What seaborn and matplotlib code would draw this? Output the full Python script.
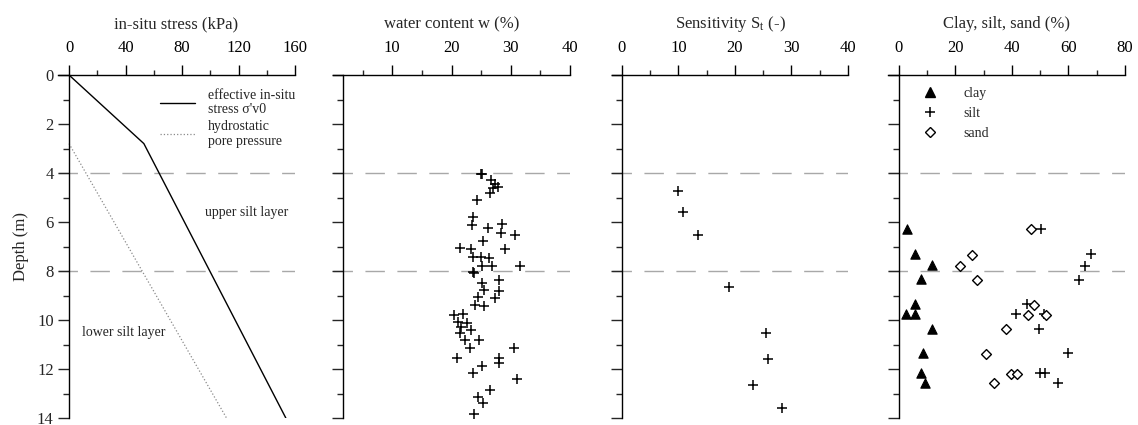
import numpy as np
import pandas as pd
import matplotlib
matplotlib.use("Agg")
import matplotlib.pyplot as plt
from matplotlib.lines import Line2D
from matplotlib.ticker import MultipleLocator, FixedLocator
import seaborn as sns

# ---- in-situ stress profile ----
eff_depth = [0.0, 2.8, 14.0]
eff_stress = [0.0, 53.0, 153.5]
hyd_depth = [2.8, 14.0]
hyd_stress = [0.0, 111.5]

# ---- water content w (%) ----
w_depth = [4.04, 4.06, 4.29, 4.46, 4.56, 4.63, 4.83, 5.10, 5.78, 6.12, 6.08, 6.26,
           6.44, 6.53, 6.76, 7.07, 7.12, 7.12, 7.44, 7.44, 7.48, 7.78, 7.78, 7.78,
           8.06, 8.09, 8.37, 8.50, 8.78, 8.80, 9.05, 9.09, 9.39, 9.43, 9.80, 9.76,
           10.07, 10.11, 10.30, 10.41, 10.52, 10.82, 10.82, 11.16, 11.16, 11.57,
           11.54, 11.77, 11.86, 12.15, 12.42, 12.84, 13.13, 13.40, 13.84]
w_value = [25.0, 25.1, 26.7, 27.3, 27.8, 27.0, 26.5, 24.3, 23.7, 23.5, 28.6, 26.2,
           28.3, 30.8, 25.3, 21.4, 23.3, 29.0, 23.6, 24.9, 26.4, 25.2, 26.8, 31.6,
           23.7, 23.8, 28.0, 25.1, 25.5, 28.0, 24.4, 27.3, 24.0, 25.5, 20.5, 22.0,
           21.1, 22.7, 21.6, 23.3, 21.4, 22.2, 24.7, 23.2, 30.6, 21.0,
           28.0, 28.1, 25.2, 23.6, 31.0, 26.5, 24.4, 25.4, 23.8]

# ---- sensitivity St (-) ----
st_depth = [4.73, 5.61, 6.53, 8.67, 10.54, 11.61, 12.65, 13.61]
st_value = [9.9, 10.9, 13.4, 18.9, 25.5, 25.9, 23.2, 28.4]

# ---- grain size fractions (%) ----
clay_depth = [6.30, 7.32, 7.76, 8.33, 9.35, 9.76, 9.76, 10.37, 11.36, 12.15, 12.56]
clay_value = [2.7, 5.7, 11.6, 7.7, 5.7, 2.5, 5.7, 11.6, 8.4, 7.7, 9.2]
silt_depth = [6.30, 7.32, 7.80, 8.37, 9.36, 9.77, 9.77, 10.37, 11.36, 12.18, 12.18, 12.59]
silt_value = [50.2, 67.9, 65.8, 63.7, 45.4, 41.4, 51.3, 49.7, 59.7, 49.9, 51.7, 56.4]
sand_depth = [6.30, 7.35, 7.80, 8.37, 9.39, 9.80, 9.80, 10.38, 11.39, 12.20, 12.20, 12.59]
sand_value = [46.7, 25.7, 21.6, 27.7, 47.8, 45.8, 51.9, 37.8, 30.7, 39.5, 41.7, 33.7]

layer_bounds = [4, 8]

sns.set_style("ticks")
plt.rcParams["font.family"] = ["Liberation Serif", "DejaVu Serif"]
plt.rcParams["mathtext.fontset"] = "stix"
plt.rcParams["font.size"] = 10

AXIS_FS = 12   # axis titles and tick labels
NOTE_FS = 10   # legends and annotations

W, H = 1138, 425
fig = plt.figure(figsize=(W / 100, H / 100), dpi=100)

top_px, bot_px = 75, 418


def make_axes(left_px, right_px):
    return fig.add_axes([left_px / W, 1 - bot_px / H,
                         (right_px - left_px) / W, (bot_px - top_px) / H])


def style_axes(ax, xlim, spine_x, major, minor, xlabel, show_ylabels):
    ax.set_xlim(*xlim)
    ax.set_ylim(14, 0)
    ax.xaxis.set_ticks_position("top")
    ax.xaxis.set_label_position("top")
    for s in ("right", "bottom"):
        ax.spines[s].set_visible(False)
    ax.spines["left"].set_position(("data", spine_x))
    ax.spines["left"].set_bounds(0, 14)
    for s in ("left", "top"):
        ax.spines[s].set_linewidth(1.0)
        ax.spines[s].set_color("black")
    ax.xaxis.set_major_locator(FixedLocator(major))
    ax.xaxis.set_minor_locator(FixedLocator(minor))
    ax.yaxis.set_major_locator(MultipleLocator(2))
    ax.yaxis.set_minor_locator(MultipleLocator(1))
    ax.tick_params(axis="x", which="major", direction="out", length=7, width=1.0,
                   pad=7, labelsize=AXIS_FS, colors="black")
    ax.tick_params(axis="x", which="minor", direction="out", length=3.5, width=1.0)
    ax.tick_params(axis="y", which="major", direction="out", length=8, width=1.0,
                   pad=3, labelsize=AXIS_FS, labelleft=show_ylabels)
    ax.tick_params(axis="y", which="minor", direction="out", length=4, width=1.0)
    ax.set_xlabel(xlabel, fontsize=AXIS_FS, labelpad=8)
    ax.set_ylabel("")
    for d in layer_bounds:
        ax.axhline(d, color="#a8a8a8", lw=1.0, dashes=(14, 9), zorder=0)


# ---- panel 1: in-situ stress ----
ax1 = make_axes(58, 295)
sns.lineplot(x=eff_stress, y=eff_depth, sort=False, estimator=None,
             color="black", lw=1.0, ax=ax1, label="effective in-situ\nstress σ'v0")
sns.lineplot(x=hyd_stress, y=hyd_depth, sort=False, estimator=None,
             color="#8a8a8a", lw=0.9, linestyle=":", ax=ax1,
             label="hydrostatic\npore pressure")
style_axes(ax1, (-7.79, 160), 0, [0, 40, 80, 120, 160], [20, 60, 100, 140],
           "in-situ stress (kPa)", True)
ax1.set_ylabel("Depth (m)", fontsize=AXIS_FS, labelpad=6)
leg1 = ax1.legend(loc="upper left", bbox_to_anchor=(160 / W, 1 - 89 / H),
                  bbox_transform=fig.transFigure, frameon=False, fontsize=NOTE_FS,
                  handlelength=2.5, handletextpad=0.95, labelspacing=0.3,
                  borderpad=0, borderaxespad=0)
for t in leg1.get_texts():
    t.set_linespacing(1.12)
ax1.text(96, 5.6, "upper silt layer", fontsize=NOTE_FS, ha="left", va="center")
ax1.text(9.2, 10.53, "lower silt layer", fontsize=NOTE_FS, ha="left", va="center")

# ---- panel 2: water content ----
ax2 = make_axes(333, 570)
sns.scatterplot(x=w_value, y=w_depth, marker="+", s=55, color="black",
                linewidth=1.1, ax=ax2)
style_axes(ax2, (0, 40), 1.69, [10, 20, 30, 40], [5, 15, 25, 35],
           "water content w (%)", False)

# ---- panel 3: sensitivity ----
ax3 = make_axes(612, 848)
sns.scatterplot(x=st_value, y=st_depth, marker="+", s=55, color="black",
                linewidth=1.1, ax=ax3)
style_axes(ax3, (-1.72, 40), 0, [0, 10, 20, 30, 40], [5, 15, 25, 35],
           r"Sensitivity S$_\mathregular{t}$ (-)", False)

# ---- panel 4: grain size fractions ----
ax4 = make_axes(888, 1125)
sns.scatterplot(x=clay_value, y=clay_depth, marker="^", s=45, color="black",
                edgecolor="black", linewidth=0.8, ax=ax4)
sns.scatterplot(x=silt_value, y=silt_depth, marker="+", s=55, color="black",
                linewidth=1.1, ax=ax4)
sns.scatterplot(x=sand_value, y=sand_depth, marker="D", s=25, facecolor="white",
                edgecolor="black", linewidth=1.0, ax=ax4)
style_axes(ax4, (-3.89, 80), 0, [0, 20, 40, 60, 80], [10, 30, 50, 70],
           "Clay, silt, sand (%)", False)
handles = [
    Line2D([], [], ls="none", marker="^", ms=6.7, color="black"),
    Line2D([], [], ls="none", marker="+", ms=7.4, mew=1.1, color="black"),
    Line2D([], [], ls="none", marker="D", ms=5.0, mfc="white", mec="black", mew=1.0),
]
ax4.legend(handles, ["clay", "silt", "sand"], loc="upper left",
           bbox_to_anchor=(916 / W, 1 - 87 / H), bbox_transform=fig.transFigure,
           frameon=False, fontsize=NOTE_FS, handlelength=2.0, handletextpad=1.4,
           labelspacing=0.5, borderpad=0, borderaxespad=0)

fig.savefig("out.png", dpi=100)
